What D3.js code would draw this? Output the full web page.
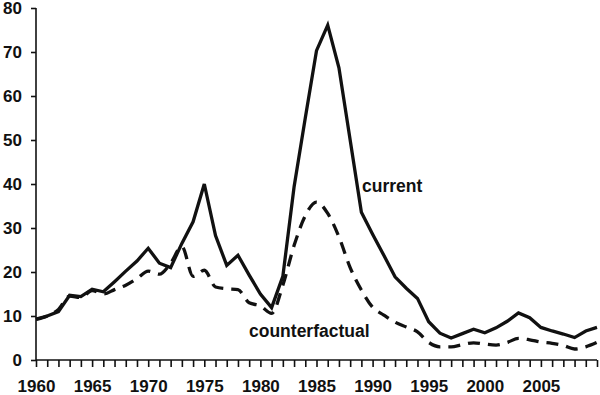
<!DOCTYPE html>
<html>
<head>
<meta charset="utf-8">
<script src="https://cdn.jsdelivr.net/npm/d3@7"></script>
<style>
  body { margin: 0; background: #fff; }
  text { font-family: "Liberation Sans", Arial, sans-serif; font-weight: bold; fill: #111; }
</style>
</head>
<body>
<div id="chart"></div>
<script>
const years = d3.range(1960, 2011);
const current = [
  9.3, 10, 11, 14.7, 14.4, 16.1, 15.5, 17.8, 20.2, 22.5,
  25.4, 22, 21, 26.5, 31.4, 40, 28.3, 21.5, 23.8, 19.3,
  15, 11.9, 19, 39.3, 55, 70.3, 76.1, 66.4, 50, 33.6,
  28.6, 23.8, 18.9, 16.3, 14, 8.7, 6.1, 5, 6, 7,
  6.2, 7.3, 8.8, 10.7, 9.6, 7.4, 6.6, 5.9, 5.1, 6.6, 7.4
];
const counterfactual = [
  9.2, 10, 11.5, 14.5, 14.2, 15.8, 15, 16, 17, 18.5,
  20.2, 19.5, 22, 25.8, 19, 20.4, 16.6, 16.2, 16, 13,
  12.3, 10.6, 17, 26, 32.8, 35.9, 33.3, 28, 21, 15.9,
  12, 10.2, 8.6, 7.5, 6.4, 4, 3, 3, 3.5, 3.9,
  3.6, 3.4, 4, 4.9, 4.6, 4.1, 3.8, 3.3, 2.5, 3, 4
];
const yTicks = [0, 10, 20, 30, 40, 50, 60, 70, 80];
const xLabels = [1960, 1965, 1970, 1975, 1980, 1985, 1990, 1995, 2000, 2005];

const width = 600;
const height = 395;

const svg = d3.select("#chart")
  .append("svg")
  .attr("width", width)
  .attr("height", height);

const x = d3.scaleLinear().domain([1960, 2010]).range([36, 597]);
const y = d3.scaleLinear().domain([0, 80]).range([360, 8]);

// y axis
const yAxis = svg.append("g")
  .attr("transform", "translate(36,0)")
  .call(d3.axisLeft(y).tickValues(yTicks).tickSize(5).tickPadding(9).tickFormat(d3.format("d")));
yAxis.selectAll("text").style("font-size", "17px");

// x axis, a tick every year, labels every 5
const xAxis = svg.append("g")
  .attr("transform", "translate(0,360)")
  .call(d3.axisBottom(x).tickValues(years).tickSize(7).tickPadding(13)
    .tickFormat(d => xLabels.includes(d) ? d : ""));
xAxis.selectAll("text").style("font-size", "17px");

svg.selectAll(".domain, .tick line")
  .attr("stroke", "#111")
  .attr("stroke-width", 1.6);
yAxis.select(".domain").attr("d", "M0,8V360");
xAxis.select(".domain").attr("d", "M36,0H597");

const line = d3.line()
  .x((d, i) => x(years[i]))
  .y(d => y(d));

svg.append("path")
  .datum(counterfactual)
  .attr("fill", "none")
  .attr("stroke", "#111")
  .attr("stroke-width", 3.3)
  .attr("stroke-dasharray", "12,8")
  .attr("d", line.curve(d3.curveMonotoneX));

svg.append("path")
  .datum(current)
  .attr("fill", "none")
  .attr("stroke", "#111")
  .attr("stroke-width", 3.3)
  .attr("d", line.curve(d3.curveLinear));

svg.append("text")
  .attr("x", 362)
  .attr("y", 192)
  .style("font-size", "17.5px")
  .text("current");

svg.append("text")
  .attr("x", 249)
  .attr("y", 337)
  .style("font-size", "17.5px")
  .text("counterfactual");
</script>
</body>
</html>
